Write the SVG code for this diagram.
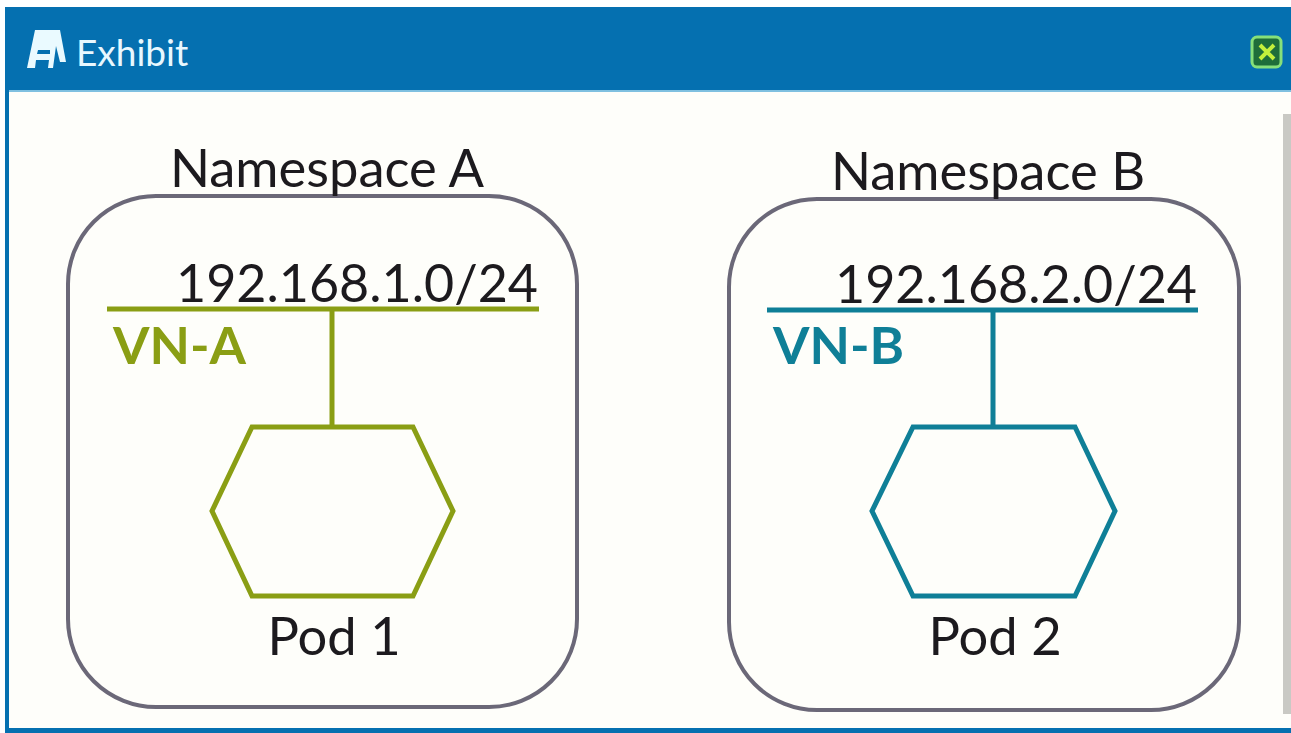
<svg xmlns="http://www.w3.org/2000/svg" width="1291" height="733" viewBox="0 0 1291 733">
<style>
text{font-family:Lato,"Liberation Sans",sans-serif;fill:#1c1a1e}
.t{font-size:52.5px}
.ip{font-size:52px}
.vn{font-size:52.5px;font-weight:700}
.box{fill:none;stroke:#6b6878;stroke-width:4}
.g{stroke:#8a9e14;fill:none;stroke-width:5}
.b{stroke:#0f7f97;fill:none;stroke-width:5}
</style>
<rect width="1291" height="733" fill="#ffffff"/>
<rect x="5" y="7" width="1286" height="726" fill="#0570b0"/>
<rect x="9" y="90" width="1282" height="3" fill="#7fc0e0"/>
<rect x="9" y="92" width="1282" height="636" fill="#fefefa"/>
<rect x="1283" y="114" width="8" height="600" fill="#c9c9c4"/>
<g id="title">
<path d="M27 68 L35 30 L60 30 L66 62 L60 62 L56 46 L53 68 L48 68 L49 60 L36 60 L35 68 Z M37 54 L50 54 L50 50 L38 50 Z" fill="#eafaff" fill-rule="evenodd"/>
<text x="76" y="66" style="fill:#e8f8ff;font-size:37px">Exhibit</text>
</g>
<g id="close"><rect x="1252" y="37" width="29" height="30" rx="5" fill="#1e6e3a" stroke="#86e07a" stroke-width="3"/><path d="M1260 45L1274 59M1274 45L1260 59" stroke="#c4f03c" stroke-width="4"/></g>
<g id="namespace-a"><rect class="box" x="68" y="196" width="509" height="511" rx="88"/><text class="t" x="327" y="187" text-anchor="middle">Namespace A</text></g>
<g id="namespace-b"><rect class="box" x="729" y="199" width="510" height="511" rx="88"/><text class="t" x="988" y="190" text-anchor="middle">Namespace B</text></g>
<g id="vn-a"><path class="g" d="M107 309H539"/><text class="ip" x="357" y="302" text-anchor="middle">192.168.1.0/24</text><text class="vn" x="113" y="364" style="fill:#8a9e14">VN-A</text></g>
<g id="vn-b"><path class="b" d="M767 310H1198"/><text class="ip" x="1016" y="303" text-anchor="middle">192.168.2.0/24</text><text class="vn" x="773" y="364" style="fill:#0f7f97">VN-B</text></g>
<g id="connectors"><path class="g" d="M332 309V427"/><path class="b" d="M993 310V427"/></g>
<g id="pod-1"><polygon class="g" points="252,427 413,427 453,511 413,596 252,596 212,511"/><text class="t" x="334" y="655" text-anchor="middle">Pod 1</text></g>
<g id="pod-2"><polygon class="b" points="913,427 1075,427 1115,511 1075,596 913,596 872,511"/><text class="t" x="995" y="655" text-anchor="middle">Pod 2</text></g>
</svg>
